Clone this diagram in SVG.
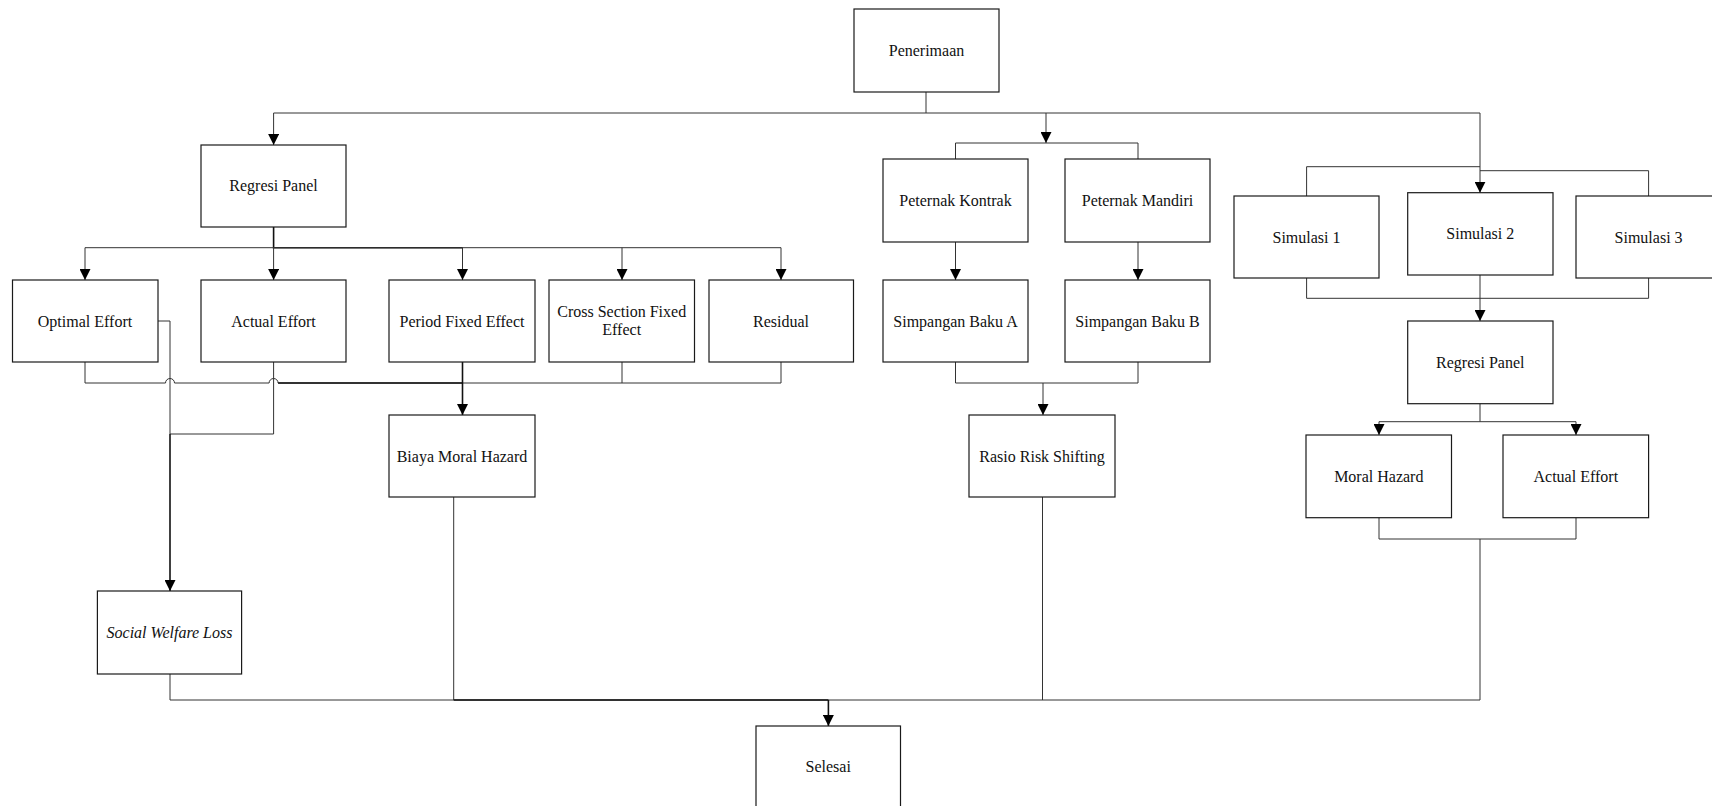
<svg xmlns="http://www.w3.org/2000/svg" width="1712" height="806" viewBox="0 0 1712 806">
<style>
.box{fill:#fff;stroke:#1a1a1a;stroke-width:1.2}
.t{font-family:"Liberation Serif","Times New Roman",serif;font-size:16px;fill:#111;text-anchor:middle}
.it{font-style:italic}
.ln{fill:none;stroke:#333;stroke-width:1}
.bd{fill:none;stroke:#111;stroke-width:1.6}
</style>
<defs>
<marker id="ah" markerUnits="userSpaceOnUse" markerWidth="11" markerHeight="11" refX="11" refY="5.5" orient="auto">
<path d="M0,0 L11,5.5 L0,11 z" fill="#000"/>
</marker>
</defs>
<rect width="1712" height="806" fill="#fff"/>
<g id="connectors">
<!-- Penerimaan distribution -->
<path class="ln" d="M926,92 V113"/>
<path class="ln" d="M273.6,113 H1480"/>
<path class="ln" d="M273.6,113 V145" marker-end="url(#ah)"/>
<path class="ln" d="M1046,113 V143" marker-end="url(#ah)"/>
<path class="ln" d="M1480,113 V192.7" marker-end="url(#ah)"/>
<!-- Peternak bracket -->
<path class="ln" d="M955.5,159 V143 H1138 V159"/>
<path class="ln" d="M955.5,242 V280" marker-end="url(#ah)"/>
<path class="ln" d="M1138,242 V280" marker-end="url(#ah)"/>
<path class="ln" d="M955.5,362 V383 H1138 V362"/>
<path class="ln" d="M1043,383 V415" marker-end="url(#ah)"/>
<!-- Regresi Panel left -->
<path class="bd" d="M273.6,227 V247.7 H462.5"/>
<path class="ln" d="M85,247.7 H781"/>
<path class="ln" d="M85,247.7 V280" marker-end="url(#ah)"/>
<path class="ln" d="M273.6,247.7 V280" marker-end="url(#ah)"/>
<path class="ln" d="M462.5,247.7 V280" marker-end="url(#ah)"/>
<path class="ln" d="M622,247.7 V280" marker-end="url(#ah)"/>
<path class="ln" d="M781,247.7 V280" marker-end="url(#ah)"/>
<!-- bottom merge with hops -->
<path class="ln" d="M85,362 V383 H165.5 A4.5,4.5 0 0 1 174.5,383 H269.1 A4.5,4.5 0 0 1 278.1,383 H781 V362"/>
<path class="bd" d="M278.1,383 H462.5"/>
<path class="ln" d="M622,362 V383"/>
<path class="bd" d="M462.5,362 V415" marker-end="url(#ah)"/>
<!-- Optimal / Actual to SWL -->
<path class="ln" d="M158,321 H170 V434"/>
<path class="ln" d="M273.6,362 V434 H170"/>
<path class="bd" d="M170,434 V591" marker-end="url(#ah)"/>
<!-- Simulasi brackets -->
<path class="ln" d="M1306.6,196 V166.7 H1480"/>
<path class="ln" d="M1480,170.7 H1648.6 V196"/>
<path class="ln" d="M1306.6,278 V298.3 H1648.6 V278"/>
<path class="ln" d="M1480,275 V321" marker-end="url(#ah)"/>
<path class="ln" d="M1480,403.7 V421.7"/>
<path class="ln" d="M1379,421.7 H1576"/>
<path class="ln" d="M1379,421.7 V435" marker-end="url(#ah)"/>
<path class="ln" d="M1576,421.7 V435" marker-end="url(#ah)"/>
<path class="ln" d="M1379,517.7 V539 H1576 V517.7"/>
<!-- final merge -->
<path class="ln" d="M1480,539 V700 H170 V674"/>
<path class="ln" d="M453.7,497 V700"/>
<path class="ln" d="M1042.5,497 V700"/>
<path class="bd" d="M453.7,700 H828.4"/>
<path class="bd" d="M828.4,700 V726" marker-end="url(#ah)"/>
</g>
<g id="n-penerimaan"><rect class="box" x="854" y="9" width="145" height="83"/><text class="t" x="926.5" y="56">Penerimaan</text></g>
<g id="n-regresi-panel-1"><rect class="box" x="201" y="145" width="145" height="82"/><text class="t" x="273.5" y="191">Regresi Panel</text></g>
<g id="n-optimal-effort"><rect class="box" x="12.5" y="280" width="145.5" height="82"/><text class="t" x="85" y="326.5">Optimal Effort</text></g>
<g id="n-actual-effort-1"><rect class="box" x="201" y="280" width="145" height="82"/><text class="t" x="273.5" y="326.5">Actual Effort</text></g>
<g id="n-period-fixed"><rect class="box" x="389" y="280" width="146" height="82"/><text class="t" x="462" y="326.5">Period Fixed Effect</text></g>
<g id="n-cross-section"><rect class="box" x="549" y="280" width="145.5" height="82"/><text class="t" x="621.7" y="317">Cross Section Fixed</text><text class="t" x="621.7" y="335">Effect</text></g>
<g id="n-residual"><rect class="box" x="709" y="280" width="144.5" height="82"/><text class="t" x="781" y="326.5">Residual</text></g>
<g id="n-biaya"><rect class="box" x="389" y="415" width="146" height="82"/><text class="t" x="462" y="461.5">Biaya Moral Hazard</text></g>
<g id="n-swl"><rect class="box" x="97.4" y="591" width="144.2" height="83"/><text class="t it" x="169.5" y="638">Social Welfare Loss</text></g>
<g id="n-peternak-kontrak"><rect class="box" x="883" y="159" width="145" height="83"/><text class="t" x="955.5" y="205.5">Peternak Kontrak</text></g>
<g id="n-peternak-mandiri"><rect class="box" x="1065" y="159" width="145" height="83"/><text class="t" x="1137.5" y="205.5">Peternak Mandiri</text></g>
<g id="n-simpangan-a"><rect class="box" x="883" y="280" width="145" height="82"/><text class="t" x="955.5" y="326.5">Simpangan Baku A</text></g>
<g id="n-simpangan-b"><rect class="box" x="1065" y="280" width="145" height="82"/><text class="t" x="1137.5" y="326.5">Simpangan Baku B</text></g>
<g id="n-rasio"><rect class="box" x="969" y="415" width="146" height="82"/><text class="t" x="1042" y="461.5">Rasio Risk Shifting</text></g>
<g id="n-simulasi-1"><rect class="box" x="1234" y="196" width="145" height="82"/><text class="t" x="1306.5" y="242.5">Simulasi 1</text></g>
<g id="n-simulasi-2"><rect class="box" x="1407.7" y="192.7" width="145.3" height="82.3"/><text class="t" x="1480.3" y="239.3">Simulasi 2</text></g>
<g id="n-simulasi-3"><rect class="box" x="1576" y="196" width="145" height="82"/><text class="t" x="1648.6" y="242.5">Simulasi 3</text></g>
<g id="n-regresi-panel-2"><rect class="box" x="1407.7" y="321" width="145.3" height="82.7"/><text class="t" x="1480.3" y="367.5">Regresi Panel</text></g>
<g id="n-moral-hazard"><rect class="box" x="1306" y="435" width="145.5" height="82.7"/><text class="t" x="1378.8" y="481.5">Moral Hazard</text></g>
<g id="n-actual-effort-2"><rect class="box" x="1503" y="435" width="145.6" height="82.7"/><text class="t" x="1575.8" y="481.5">Actual Effort</text></g>
<g id="n-selesai"><rect class="box" x="756" y="726" width="144.5" height="82"/><text class="t" x="828.2" y="772">Selesai</text></g>
</svg>
